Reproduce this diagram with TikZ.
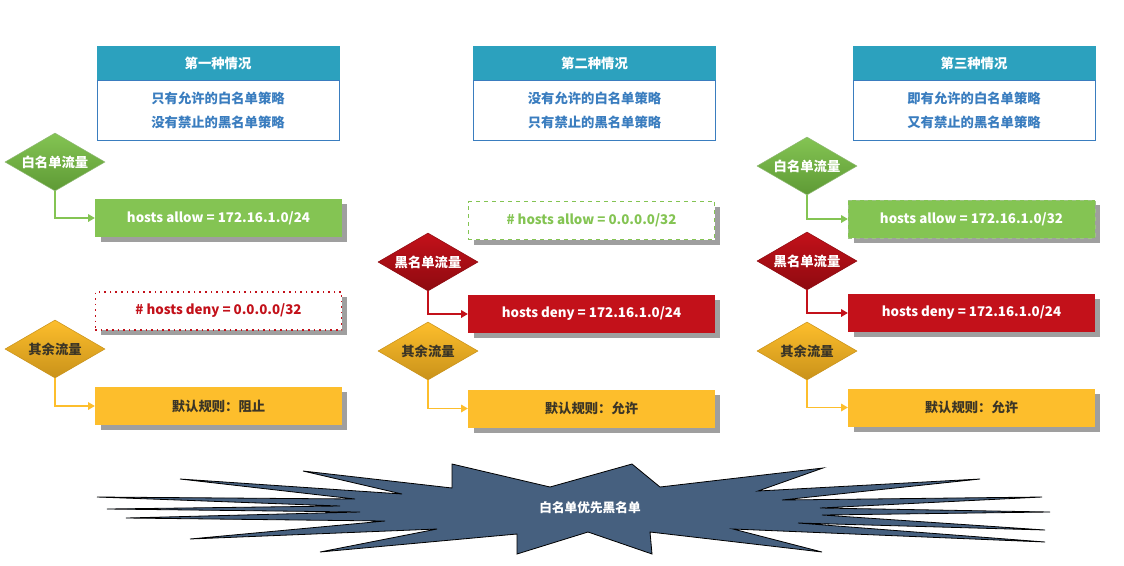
\documentclass[tikz,border=0pt]{standalone}
\usepackage{fontspec}
\setmainfont{Noto Sans CJK SC}
\usepackage{tikz}
\usetikzlibrary{shapes.geometric,arrows.meta,positioning,shadows}
\definecolor{headteal}{HTML}{2CA1BE}
\definecolor{bodyblue}{HTML}{3A7DBF}
\definecolor{allowgreen}{HTML}{84C453}
\definecolor{allowdark}{HTML}{5E9A35}
\definecolor{denyred}{HTML}{C3111A}
\definecolor{denydark}{HTML}{8E0A10}
\definecolor{defaultyellow}{HTML}{FDBE2C}
\definecolor{defaultdark}{HTML}{C9921A}
\definecolor{textdark}{HTML}{3B3526}
\definecolor{starblue}{HTML}{46607F}

\begin{document}
\begin{tikzpicture}[
  x=0.75pt, y=-0.75pt,
  txt/.style={font=\bfseries\fontsize{10}{12}\selectfont},
  headbox/.style={rectangle, draw=headteal, fill=headteal, text=white, txt,
    minimum width=181.5pt, minimum height=25.5pt, inner sep=0pt},
  bodybox/.style={rectangle, draw=bodyblue, fill=white, text=bodyblue, line width=0.7pt,
    minimum width=181.5pt, minimum height=45pt, align=center, inner sep=0pt,
    font=\bfseries\fontsize{10}{18}\selectfont},
  rulebox/.style={rectangle, minimum width=185pt, minimum height=28.5pt, inner sep=0pt, txt,
    drop shadow={shadow xshift=4pt, shadow yshift=-4pt, opacity=0.5, fill=black!75}},
  allowbox/.style={rulebox, fill=allowgreen, text=white},
  denybox/.style={rulebox, fill=denyred, text=white},
  defaultbox/.style={rulebox, fill=defaultyellow, text=textdark},
  offallow/.style={rulebox, fill=white, draw=allowgreen, dashed, line width=0.9pt, text=allowgreen},
  offdeny/.style={rulebox, fill=white, draw=denyred, line width=0.9pt,
    dash pattern=on 1.2pt off 3pt, text=denyred},
  decision/.style={diamond, shape aspect=1.72, minimum width=75pt, minimum height=43.5pt,
    inner sep=0pt, txt},
  whitedec/.style={decision, draw=allowdark!70, top color=allowgreen, bottom color=allowdark, text=white},
  blackdec/.style={decision, draw=denydark, top color=denyred, bottom color=denydark, text=white},
  restdec/.style={decision, draw=defaultdark, top color=defaultyellow, bottom color=defaultdark, text=textdark},
  flow/.style={line width=1.2pt, -{Triangle[length=5pt,width=5.5pt]}},
  starshape/.style={draw=black, line width=0.6pt, fill=starblue}
]
\useasboundingbox (0,0) rectangle (1124,565);

% Case 1: whitelist only
\node[headbox] (head1) at (218,63) {第一种情况};
\node[bodybox, below=0pt of head1] (body1) {只有允许的白名单策略\\没有禁止的黑名单策略};
\node[whitedec] (white1) at (55,162) {白名单流量};
\node[allowbox] (allow1) at (218.5,218) {hosts allow = 172.16.1.0/24};
\node[offdeny] (deny1) at (218.5,311) {\# hosts deny = 0.0.0.0/32};
\node[restdec] (rest1) at (55,349) {其余流量};
\node[defaultbox] (default1) at (218.5,406) {默认规则：阻止};
\draw[flow, allowgreen] (white1.south) |- (allow1.west);
\draw[flow, defaultyellow] (rest1.south) |- (default1.west);

% Case 2: blacklist only
\node[headbox] (head2) at (594.5,63) {第二种情况};
\node[bodybox, below=0pt of head2] (body2) {没有允许的白名单策略\\只有禁止的黑名单策略};
\node[offallow] (allow2) at (591.5,220.5) {\# hosts allow = 0.0.0.0/32};
\node[blackdec] (black2) at (428,262) {黑名单流量};
\node[denybox] (deny2) at (591.5,314) {hosts deny = 172.16.1.0/24};
\node[restdec] (rest2) at (428,351) {其余流量};
\node[defaultbox] (default2) at (591.5,408.5) {默认规则：允许};
\draw[flow, denyred] (black2.south) |- (deny2.west);
\draw[flow, defaultyellow] (rest2.south) |- (default2.west);

% Case 3: both lists
\node[headbox] (head3) at (974,63) {第三种情况};
\node[bodybox, below=0pt of head3] (body3) {即有允许的白名单策略\\又有禁止的黑名单策略};
\node[whitedec] (white3) at (807,166) {白名单流量};
\node[allowbox, draw=allowdark!60, dashed] (allow3) at (971.5,219) {hosts allow = 172.16.1.0/32};
\node[blackdec] (black3) at (807,261) {黑名单流量};
\node[denybox] (deny3) at (971.5,313) {hosts deny = 172.16.1.0/24};
\node[restdec] (rest3) at (807,351) {其余流量};
\node[defaultbox] (default3) at (971.5,407.5) {默认规则：允许};
\draw[flow, allowgreen] (white3.south) |- (allow3.west);
\draw[flow, denyred] (black3.south) |- (deny3.west);
\draw[flow, defaultyellow] (rest3.south) |- (default3.west);

% Starburst banner
\draw[starshape] (452,464) -- (550,487) -- (632,464) -- (660,487) -- (823,468) -- (758,491)
  -- (980,479) -- (782,500) -- (1042,497) -- (820,508) -- (1050,512) -- (822,515)
  -- (1045,530) -- (798,523) -- (1045,542) -- (733,529) -- (822,552) -- (650,532)
  -- (652,554) -- (588,532) -- (517,554) -- (517,534) -- (320,552) -- (437,529)
  -- (190,539) -- (385,521) -- (126,518) -- (360,512) -- (107,509) -- (340,506)
  -- (97,497) -- (355,499) -- (180,479) -- (402,494) -- (303,471) -- (452,488) -- cycle;
\node[txt, text=white, font=\bfseries\fontsize{9.5}{11}\selectfont] (rule) at (590,508) {白名单优先黑名单};

\end{tikzpicture}
\end{document}
